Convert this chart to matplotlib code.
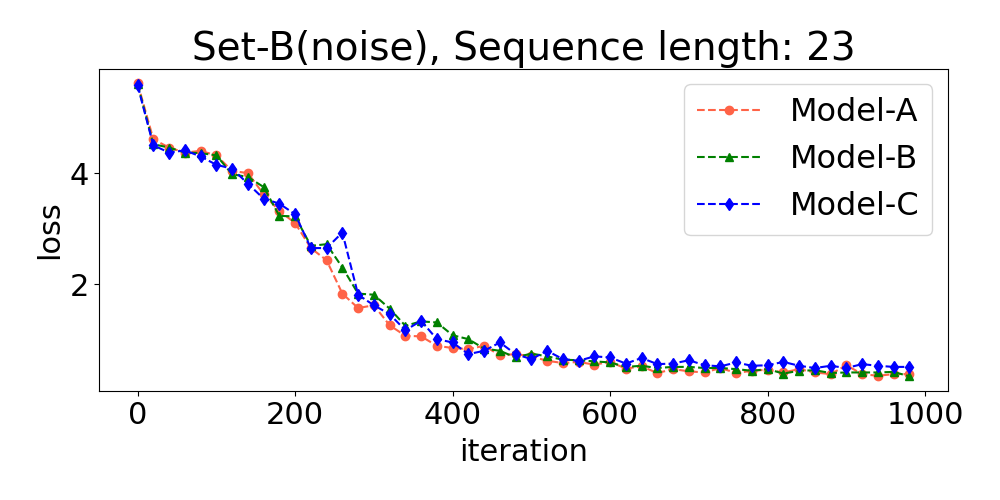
import matplotlib
matplotlib.use("Agg")
import matplotlib.pyplot as plt

iterations = list(range(0, 1000, 20))

model_a = [5.62, 4.61, 4.46, 4.37, 4.40, 4.32, 4.04, 4.00, 3.62, 3.32,
           3.10, 2.65, 2.43, 1.83, 1.57, 1.62, 1.26, 1.07, 1.06, 0.89,
           0.85, 0.83, 0.89, 0.72, 0.74, 0.70, 0.62, 0.58, 0.60, 0.55,
           0.60, 0.48, 0.52, 0.40, 0.47, 0.43, 0.41, 0.49, 0.40, 0.44,
           0.46, 0.41, 0.47, 0.41, 0.38, 0.54, 0.38, 0.35, 0.38, 0.38]

model_b = [5.60, 4.52, 4.46, 4.37, 4.36, 4.32, 3.98, 3.93, 3.75, 3.23,
           3.22, 2.69, 2.72, 2.30, 1.83, 1.81, 1.56, 1.25, 1.33, 1.31,
           1.08, 1.01, 0.84, 0.80, 0.68, 0.75, 0.70, 0.64, 0.63, 0.61,
           0.59, 0.51, 0.53, 0.49, 0.51, 0.51, 0.49, 0.49, 0.47, 0.44,
           0.47, 0.39, 0.44, 0.45, 0.40, 0.41, 0.41, 0.41, 0.42, 0.34]

model_c = [5.58, 4.50, 4.37, 4.41, 4.30, 4.15, 4.08, 3.81, 3.54, 3.45,
           3.26, 2.65, 2.65, 2.93, 1.81, 1.62, 1.46, 1.17, 1.34, 1.01,
           0.95, 0.74, 0.80, 0.95, 0.74, 0.65, 0.80, 0.65, 0.62, 0.70,
           0.68, 0.57, 0.67, 0.56, 0.57, 0.63, 0.54, 0.52, 0.59, 0.53,
           0.54, 0.60, 0.53, 0.49, 0.53, 0.49, 0.56, 0.53, 0.51, 0.51]

labels = ["Model-A", "Model-B", "Model-C"]
title = "Set-B(noise), Sequence length: 23"

fig = plt.figure(figsize=(10, 5), dpi=100)
ax = fig.add_axes([0.099, 0.218, 0.849, 0.645])

ax.plot(iterations, model_a, linestyle="--", marker="o", color="tomato",
        markersize=6, linewidth=1.5, label=labels[0])
ax.plot(iterations, model_b, linestyle="--", marker="^", color="green",
        markersize=6, linewidth=1.5, label=labels[1])
ax.plot(iterations, model_c, linestyle="--", marker="d", color="blue",
        markersize=6, linewidth=1.5, label=labels[2])

ax.set_title(title, fontsize=28)
ax.set_xlabel("iteration", fontsize=22, labelpad=6)
ax.set_ylabel("loss", fontsize=22)
ax.set_yticks([2, 4])
ax.tick_params(labelsize=22)
ax.legend(fontsize=23, loc="upper right", handletextpad=0.9)

fig.savefig("out.png", dpi=100)
